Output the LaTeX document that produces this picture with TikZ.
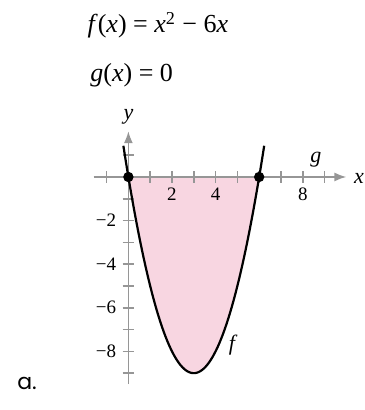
\documentclass[tikz,border=0pt]{standalone}
\usepackage{fontspec}
\setmainfont{Liberation Serif}
\newfontfamily\partfont{Poppins}
\usetikzlibrary{arrows.meta}
\definecolor{areapink}{RGB}{248,214,225}
\definecolor{axisgray}{RGB}{150,150,150}
\tikzset{
  axisline/.style={axisgray,line width=0.8pt},
  axisarrow/.style={axisline,-{Latex[length=6pt,width=4.5pt]}},
  ticklabel/.style={font=\fontsize{9.5}{10}\selectfont,inner sep=1pt},
  curvelabel/.style={font=\fontsize{11}{12}\selectfont\itshape,inner sep=0pt},
  formula/.style={font=\fontsize{13}{15}\selectfont,anchor=base west,inner sep=0pt}
}
\begin{document}
\begin{tikzpicture}[x=10.9pt,y=10.9pt]
\useasboundingbox (-5.89,-10.69) rectangle (10.85,8.12);

\node[formula] (eqf) at (-1.89,6.61) {\textit{f}(\textit{x}) = \textit{x}\textsuperscript{2} − 6\textit{x}};
\node[formula] (eqg) at (-1.76,4.36) {\textit{g}(\textit{x}) = 0};

\fill[areapink] (0,0) -- plot[domain=0:6,samples=60] (\x,{\x*\x-6*\x}) -- cycle;

\draw[axisarrow] (-1.6,0) -- (10,0);
\draw[axisarrow] (0,-9.5) -- (0,2.1);
\foreach \i in {-1,1,2,...,9}
  \draw[axisline] (\i,-0.27) -- (\i,0.27);
\foreach \j in {-9,...,-1,1}
  \draw[axisline] (-0.27,\j) -- (0.27,\j);

\node[curvelabel] (xlab) at (10.58,-0.05) {x};
\node[curvelabel] (ylab) at (0,2.75) {y};

\foreach \i in {2,4,8}
  \node[ticklabel] (xt\i) at (\i,-0.8) {\i};
\foreach \j in {2,4,6,8}
  \node[ticklabel,anchor=east] (yt\j) at (-0.45,-\j) {−\j};

\draw[line width=1.1pt] plot[domain=-0.23:6.23,samples=80,smooth] (\x,{\x*\x-6*\x});

\coordinate (ptA) at (0,0);
\coordinate (ptB) at (6,0);
\fill (ptA) circle (2.6pt);
\fill (ptB) circle (2.6pt);

\node[curvelabel] (glab) at (8.6,0.8) {g};
\node[curvelabel] (flab) at (4.75,-7.7) {f};

\node[font=\partfont\fontsize{11}{12}\selectfont] (part) at (-4.65,-9.45) {a.};
\end{tikzpicture}
\end{document}
